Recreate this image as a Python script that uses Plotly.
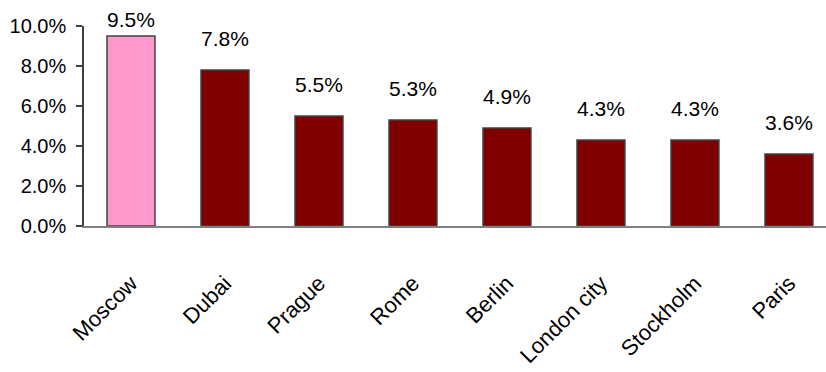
import plotly.graph_objects as go

cities = ["Moscow", "Dubai", "Prague", "Rome", "Berlin", "London city", "Stockholm", "Paris"]
shares = [0.095, 0.078, 0.055, 0.053, 0.049, 0.043, 0.043, 0.036]
bar_colors = ["#FF99CC", "#800000", "#800000", "#800000", "#800000", "#800000", "#800000", "#800000"]
label_shift = [3, 18, 18, 18, 18, 18, 18, 18]

FONT = "Liberation Sans Narrow, Liberation Sans, Arial, sans-serif"

fig = go.Figure()
fig.add_trace(go.Bar(
    x=cities, y=shares,
    marker=dict(color=bar_colors, line=dict(color="#404040", width=1.5)),
    width=0.51,
    hoverinfo="skip",
))

for c, v, s in zip(cities, shares, label_shift):
    fig.add_annotation(x=c, y=v, text=f"{v*100:.1f}%", showarrow=False,
                       yanchor="bottom", yshift=s, xanchor="center",
                       font=dict(family=FONT, size=21, color="#000000"))

fig.update_layout(
    width=826, height=372,
    margin=dict(l=84, r=0, t=26, b=146),
    paper_bgcolor="white", plot_bgcolor="white",
    showlegend=False,
    font=dict(family=FONT, size=20, color="#000000"),
)
fig.update_xaxes(
    range=[-0.5, 7.394],
    showline=True, linecolor="#808080", linewidth=1.5,
    ticks="", tickangle=-45, ticklabelstandoff=34, automargin=False,
    showgrid=False, zeroline=False,
    tickfont=dict(family=FONT, size=22),
)
fig.update_yaxes(
    range=[0, 0.1], dtick=0.02, tickformat=".1%",
    showline=True, linecolor="#404040", linewidth=1.5,
    ticks="outside", ticklen=6, tickcolor="#404040", tickwidth=1.5,
    ticklabelstandoff=6, automargin=False,
    showgrid=False, zeroline=False,
    tickfont=dict(family=FONT, size=20),
)

fig.write_html("out.html")
